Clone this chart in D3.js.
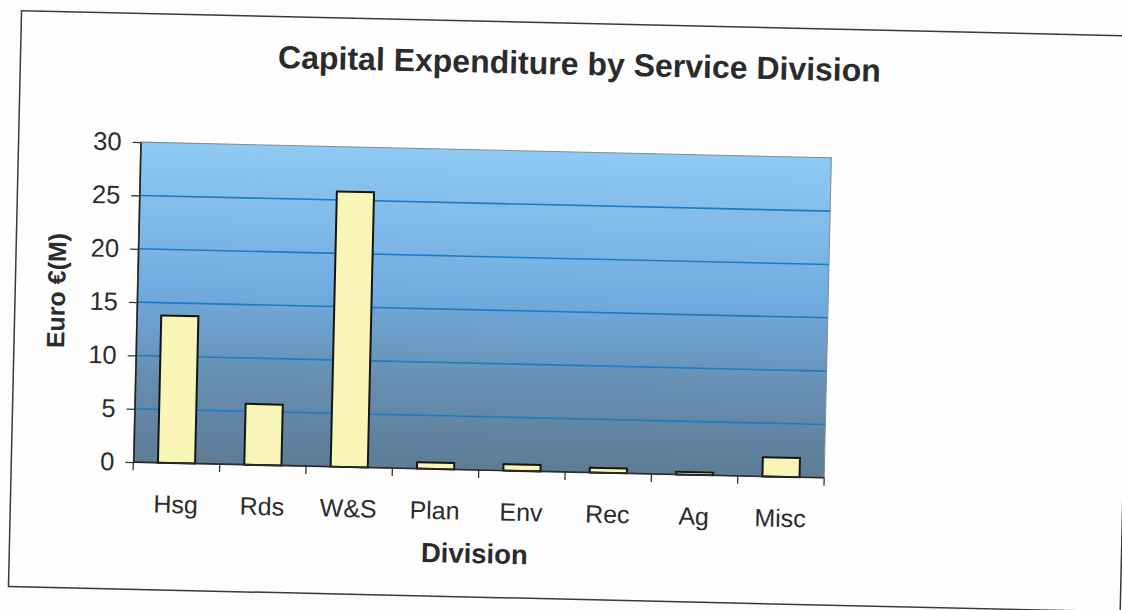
<!DOCTYPE html>
<html>
<head>
<meta charset="utf-8">
<script src="https://cdn.jsdelivr.net/npm/d3@7"></script>
<style>
  html, body { margin: 0; padding: 0; background: #fdfdfd; }
  svg { display: block; }
  text { font-family: "Liberation Sans", Arial, sans-serif; fill: #2b2b2b; }
</style>
</head>
<body>
<svg id="chart" width="1122" height="610"></svg>
<script>
// Capital expenditure per service division, in millions of euro
const categories = ["Hsg", "Rds", "W&S", "Plan", "Env", "Rec", "Ag", "Misc"];
const values = [13.8, 5.7, 25.8, 0.6, 0.6, 0.45, 0.25, 1.8];
const yTicks = [0, 5, 10, 15, 20, 25, 30];
const gridValues = [5, 10, 15, 20, 25];
const chartTitle = "Capital Expenditure by Service Division";
const xTitle = "Division";
const yTitle = "Euro €(M)";

const plot = { left: 137, right: 828, top: 151.7, bottom: 471.8 };

const svg = d3.select("#chart");

// the printed page sits slightly skewed
const root = svg.append("g").attr("transform", "rotate(1.3, 561, 305)");

// outer chart border
root.append("rect")
  .attr("x", 15).attr("y", 23)
  .attr("width", 1112).attr("height", 576)
  .attr("fill", "#fefefe")
  .attr("stroke", "#3a3a3a")
  .attr("stroke-width", 1.5);

// plot background gradient
const defs = svg.append("defs");
const grad = defs.append("linearGradient")
  .attr("id", "plotFill")
  .attr("x1", 0).attr("y1", 0).attr("x2", 0).attr("y2", 1);
[["0%", "#8fcaf3"], ["45%", "#71ace0"], ["72%", "#678fb3"], ["100%", "#5d7c95"]]
  .forEach(([o, c]) => grad.append("stop").attr("offset", o).attr("stop-color", c));

const x = d3.scaleBand()
  .domain(categories)
  .range([plot.left, plot.right])
  .paddingInner(0.57)
  .paddingOuter(0.285);

const y = d3.scaleLinear()
  .domain([0, 30])
  .range([plot.bottom, plot.top]);

root.append("rect")
  .attr("x", plot.left).attr("y", plot.top)
  .attr("width", plot.right - plot.left)
  .attr("height", plot.bottom - plot.top)
  .attr("fill", "url(#plotFill)")
  .attr("stroke", "#8a8a8a")
  .attr("stroke-width", 1);

// horizontal gridlines
root.append("g")
  .selectAll("line")
  .data(gridValues)
  .join("line")
  .attr("x1", plot.left).attr("x2", plot.right)
  .attr("y1", d => y(d)).attr("y2", d => y(d))
  .attr("stroke", "#1c7bc2")
  .attr("stroke-width", 1.6);

// bars
root.append("g")
  .selectAll("rect")
  .data(categories.map((c, i) => ({ c, v: values[i] })))
  .join("rect")
  .attr("x", d => x(d.c))
  .attr("y", d => y(d.v))
  .attr("width", x.bandwidth())
  .attr("height", d => y(0) - y(d.v))
  .attr("fill", "#f8f5b6")
  .attr("stroke", "#151515")
  .attr("stroke-width", 2);

// y axis
const yAxis = root.append("g")
  .attr("transform", `translate(${plot.left},0)`)
  .call(d3.axisLeft(y).tickValues(yTicks).tickSize(8).tickSizeOuter(0).tickPadding(11));
yAxis.select(".domain").attr("stroke", "#222").attr("stroke-width", 1.6);
yAxis.selectAll(".tick line").attr("stroke", "#333").attr("stroke-width", 1.3);
yAxis.selectAll(".tick text")
  .style("font-size", "25.5px")
  .style("font-family", "'Liberation Sans', Arial, sans-serif")
  .attr("fill", "#2b2b2b");

// x axis line with ticks at category boundaries
const xAxis = root.append("g");
xAxis.append("line")
  .attr("x1", plot.left).attr("x2", plot.right)
  .attr("y1", y(0)).attr("y2", y(0))
  .attr("stroke", "#2a2a2a").attr("stroke-width", 1.6);
const bounds = categories.map(c => x(c) + x.bandwidth() / 2 - x.step() / 2);
bounds.push(bounds[bounds.length - 1] + x.step());
xAxis.selectAll("line.tick")
  .data(bounds)
  .join("line")
  .attr("class", "tick")
  .attr("x1", d => d).attr("x2", d => d)
  .attr("y1", y(0)).attr("y2", y(0) + 8)
  .attr("stroke", "#333").attr("stroke-width", 1.3);
xAxis.selectAll("text")
  .data(categories)
  .join("text")
  .attr("x", d => x(d) + x.bandwidth() / 2)
  .attr("y", y(0) + 50)
  .attr("text-anchor", "middle")
  .style("font-size", "25px")
  .text(d => d);

// titles
root.append("text")
  .attr("x", 574).attr("y", 74.5)
  .attr("text-anchor", "middle")
  .style("font-size", "32px")
  .style("font-weight", "bold")
  .attr("fill", "#333")
  .text(chartTitle);

root.append("text")
  .attr("x", 480).attr("y", 565)
  .attr("text-anchor", "middle")
  .style("font-size", "27.5px")
  .style("font-weight", "bold")
  .attr("fill", "#333")
  .text(xTitle);

root.append("text")
  .attr("transform", "translate(65,302) rotate(-90)")
  .attr("text-anchor", "middle")
  .style("font-size", "25px")
  .style("font-weight", "bold")
  .attr("fill", "#333")
  .text(yTitle);
</script>
</body>
</html>
